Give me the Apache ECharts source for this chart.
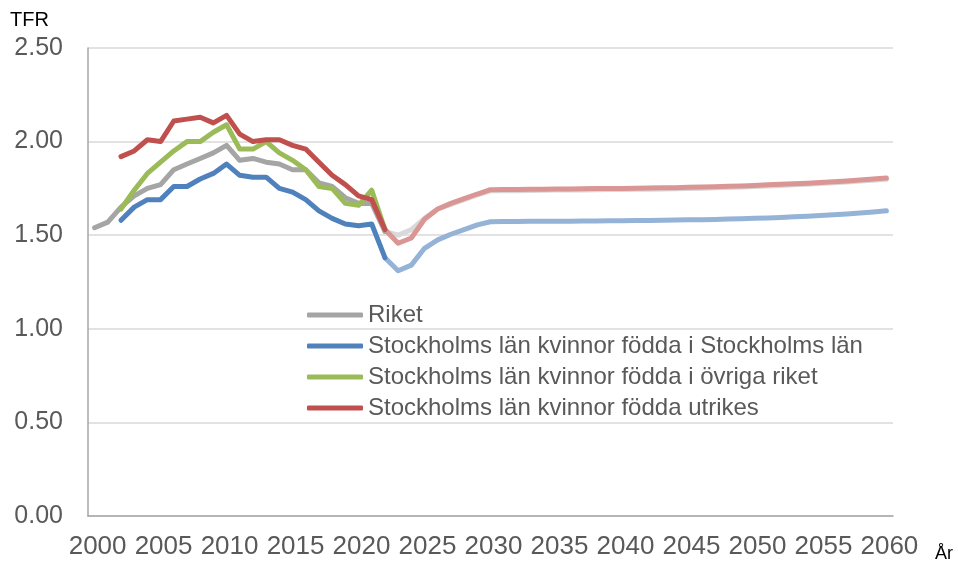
<!DOCTYPE html>
<html>
<head>
<meta charset="utf-8">
<script src="https://cdn.jsdelivr.net/npm/echarts@6/dist/echarts.min.js"></script>
<style>
  html, body { margin: 0; padding: 0; background: #fff; }
  #main { width: 958px; height: 564px; }
</style>
</head>
<body>
<div id="main"></div>
<script>
const years = [];
for (let y = 2000; y <= 2060; y++) years.push(String(y));

const yTicks = [0, 0.5, 1, 1.5, 2, 2.5];

// historical 2000-2022
const riket = [1.54, 1.57, 1.65, 1.71, 1.75, 1.77, 1.85, 1.88, 1.91, 1.94, 1.98, 1.90,
  1.91, 1.89, 1.88, 1.85, 1.85, 1.78, 1.76, 1.70, 1.67, 1.67, 1.52];
const sthlmSthlm = [null, null, 1.58, 1.65, 1.69, 1.69, 1.76, 1.76, 1.80, 1.83, 1.88, 1.82,
  1.81, 1.81, 1.75, 1.73, 1.69, 1.63, 1.59, 1.56, 1.55, 1.56, 1.38];
const sthlmOvriga = [null, null, 1.64, 1.74, 1.83, 1.89, 1.95, 2.00, 2.00, 2.05, 2.09, 1.96,
  1.96, 2.00, 1.94, 1.90, 1.85, 1.76, 1.75, 1.67, 1.66, 1.74, 1.53];
const sthlmUtrikes = [null, null, 1.92, 1.95, 2.01, 2.00, 2.11, 2.12, 2.13, 2.10, 2.14, 2.04,
  2.00, 2.01, 2.01, 1.98, 1.96, 1.89, 1.82, 1.77, 1.71, 1.69, 1.53];

// projections 2022-2060
const riketProj = [1.52, 1.50, 1.53, 1.59, 1.64, 1.665, 1.69, 1.715,
  1.737, 1.738, 1.738, 1.739, 1.740, 1.741, 1.741, 1.742, 1.743, 1.744, 1.744,
  1.745, 1.746, 1.747, 1.748, 1.750, 1.751, 1.753, 1.755, 1.757, 1.760,
  1.763, 1.766, 1.769, 1.772, 1.776, 1.780, 1.784, 1.789, 1.794, 1.799];
const sthlmProj = [1.38, 1.31, 1.34, 1.43, 1.475, 1.505, 1.53, 1.555,
  1.572, 1.573, 1.573, 1.574, 1.574, 1.575, 1.575, 1.576, 1.576, 1.577, 1.577,
  1.578, 1.579, 1.580, 1.581, 1.582, 1.583, 1.584, 1.586, 1.588, 1.590,
  1.592, 1.595, 1.598, 1.601, 1.605, 1.609, 1.613, 1.618, 1.624, 1.630];
const utrikesProj = [1.53, 1.457, 1.485, 1.585, 1.64, 1.67, 1.695, 1.72,
  1.743, 1.744, 1.744, 1.745, 1.746, 1.747, 1.747, 1.748, 1.749, 1.750, 1.750,
  1.751, 1.752, 1.753, 1.754, 1.756, 1.757, 1.759, 1.761, 1.763, 1.766,
  1.769, 1.772, 1.775, 1.778, 1.782, 1.786, 1.790, 1.795, 1.800, 1.805];

const names = [
  "Riket",
  "Stockholms län kvinnor födda i Stockholms län",
  "Stockholms län kvinnor födda i övriga riket",
  "Stockholms län kvinnor födda utrikes"
];

const font = "'Liberation Sans', Arial, sans-serif";
const projStart = 22; // index of 2022

const pad = (arr, start) => years.map((_, i) =>
  i >= start && i - start < arr.length ? arr[i - start] : null);

const line = (name, data, color) => ({
  name,
  type: "line",
  data,
  symbol: "none",
  silent: true,
  lineStyle: { color, width: 5, cap: "round", join: "round" },
  itemStyle: { color },
});

const myChart = echarts.init(document.getElementById("main"));

myChart.setOption({
  animation: false,
  textStyle: { fontFamily: font },
  grid: { left: 88, right: 65, top: 48, bottom: 48, containLabel: false },
  legend: {
    data: names,
    orient: "vertical",
    left: 302,
    top: 298,
    itemWidth: 56,
    itemHeight: 5,
    itemGap: 7,
    icon: "roundRect",
    textStyle: { fontSize: 24, color: "#595959", fontFamily: font },
  },
  graphic: [
    { type: "text", left: 10, top: 10, style: { text: "TFR", fontSize: 20, fill: "#000", fontFamily: font } },
    { type: "text", left: 935, top: 545, style: { text: "År", fontSize: 18, fill: "#000", fontFamily: font } },
  ],
  xAxis: {
    type: "category",
    data: years,
    boundaryGap: true,
    axisLine: { lineStyle: { color: "#A6A6A6", width: 1.5 } },
    axisTick: { interval: 4, inside: true, length: 7, lineStyle: { color: "#A6A6A6", width: 1.5 } },
    axisLabel: {
      interval: 4, fontSize: 26, color: "#595959", margin: 18, fontFamily: font,
      padding: [0, 0, 0, 6],
    },
    splitLine: { show: false },
  },
  yAxis: {
    type: "value",
    min: yTicks[0],
    max: yTicks[yTicks.length - 1],
    interval: 0.5,
    axisLine: { show: true, lineStyle: { color: "#A6A6A6", width: 1.5 } },
    axisTick: { show: false },
    axisLabel: {
      fontSize: 25, color: "#595959", margin: 25, fontFamily: font,
      formatter: (v) => v.toFixed(2),
    },
    splitLine: { lineStyle: { color: "#D9D9D9", width: 1.5 } },
  },
  series: [
    line("Riket prognos", pad(riketProj, projStart), "#D9D9D9"),
    line("Stockholms län prognos", pad(sthlmProj, projStart), "#95B3D7"),
    line("Utrikes prognos", pad(utrikesProj, projStart), "#D99694"),
    line(names[0], pad(riket, 0), "#A5A5A5"),
    line(names[1], pad(sthlmSthlm, 0), "#4F81BD"),
    line(names[2], pad(sthlmOvriga, 0), "#9BBB59"),
    line(names[3], pad(sthlmUtrikes, 0), "#C0504D"),
  ],
});
</script>
</body>
</html>
